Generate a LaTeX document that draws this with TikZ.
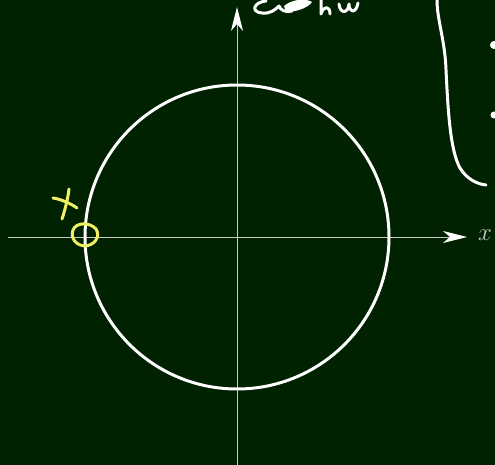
\documentclass[tikz,border=0pt]{standalone}
\usetikzlibrary{arrows.meta}
\definecolor{board}{RGB}{1,34,1}
\definecolor{axisgray}{RGB}{200,200,200}
\definecolor{chalkyellow}{RGB}{240,240,100}
\tikzset{
  axisline/.style={axisgray, line width=1pt, -{Stealth[length=24bp,width=12bp,inset=7bp,color=white]}},
  chalk/.style={white, line width=3pt, line cap=round, line join=round},
  ychalk/.style={chalkyellow, line width=3pt, line cap=round, line join=round},
  unitcircle/.style={white, line width=3pt}
}
\begin{document}
\begin{tikzpicture}[x=1bp,y=-1bp]
\fill[board] (0,0) rectangle (495,465);
\useasboundingbox (0,0) rectangle (495,465);
\coordinate (O) at (237,237);
\coordinate (xs) at (8,237);
\coordinate (xe) at (467,237);
\coordinate (ys) at (237,465);
\coordinate (ye) at (237,7);
\draw[axisline] (xs) -- (xe);
\draw[axisline] (ys) -- (ye);
\node[axisgray, font=\fontsize{24}{28}\selectfont, anchor=west, inner sep=0pt] (xl) at (478,235) {$x$};
\draw[unitcircle] (O) circle[radius=152];
% handwritten top
\draw[chalk] (266,1) .. controls (254,2) and (250,12) .. (262,13) .. controls (270,14) and (275,10) .. (279,6) .. controls (280,10) and (286,13) .. (292,11);
\fill[white] (284,6) .. controls (292,-1) and (306,-2) .. (312,2) .. controls (308,8) and (296,12) .. (286,12) -- cycle;
\draw[chalk] (321,0) -- (321,14) .. controls (323,6) and (330,5) .. (330,14);
\draw[chalk] (339,4) .. controls (340,14) and (348,14) .. (349,4) .. controls (349,13) and (356,14) .. (358,3);
% brace
\draw[chalk] (437,0) .. controls (437,20) and (445,40) .. (446,70) .. controls (448,110) and (450,150) .. (460,168) .. controls (466,178) and (476,184) .. (486,185);
\fill[white] (494,45) circle[radius=4];
\fill[white] (494,115) circle[radius=3.5];
% yellow mark
\draw[ychalk] (53,198) .. controls (60,199) and (70,203) .. (77,208);
\draw[ychalk] (69,189) .. controls (68,198) and (65,210) .. (62,219);
\draw[ychalk] (86,246) .. controls (76,246) and (70,238) .. (73,230) .. controls (76,222) and (90,222) .. (96,229) .. controls (101,237) and (94,246) .. (84,246);
\end{tikzpicture}
\end{document}
